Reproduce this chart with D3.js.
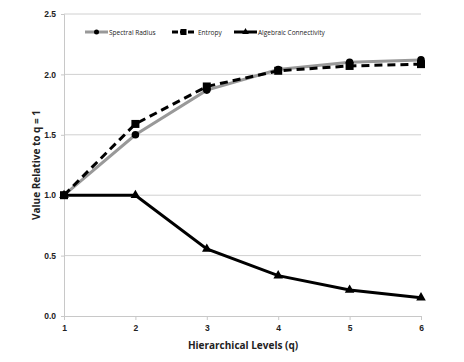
<!DOCTYPE html>
<html><head><meta charset="utf-8">
<script src="https://cdn.jsdelivr.net/npm/d3@7"></script>
<style>body{margin:0;background:#fff;} svg{display:block;font-family:"Open Sans",Lato,sans-serif;}</style>
</head><body>
<svg id="c" width="464" height="362"></svg>
<script>
const levels = [1, 2, 3, 4, 5, 6];
const spectralRadius = [1.0, 1.50, 1.87, 2.04, 2.10, 2.12];
const entropy = [1.0, 1.59, 1.90, 2.03, 2.07, 2.085];
const algebraicConnectivity = [1.0, 1.0, 0.555, 0.334, 0.215, 0.152];
const yTicks = [0, 0.5, 1.0, 1.5, 2.0, 2.5];
const seriesNames = ["Spectral Radius", "Entropy", "Algebraic Connectivity"];

const svg = d3.select("#c");
const x = d3.scaleLinear().domain([1, 6]).range([64, 421]);
const y = d3.scaleLinear().domain([0, 2.5]).range([316, 14]);

// gridlines
svg.append("g").selectAll("line").data(yTicks.filter(d => d > 0)).join("line")
  .attr("x1", 64).attr("x2", 421).attr("y1", d => y(d)).attr("y2", d => y(d))
  .attr("stroke", "#d0d0d0").attr("stroke-width", 1);

// y axis
const ya = svg.append("g").attr("transform", "translate(64,0)")
  .call(d3.axisLeft(y).tickValues(yTicks).tickFormat(d3.format(".1f")).tickSize(3));
ya.select(".domain").attr("stroke", "#c8c8c8");
ya.selectAll(".tick line").attr("stroke", "#c8c8c8");
ya.selectAll("text").attr("font-size", 8.5).attr("font-weight", "bold").attr("fill", "#222").attr("dx", -2);

// x axis
const xa = svg.append("g").attr("transform", "translate(0,316)")
  .call(d3.axisBottom(x).tickValues(levels).tickFormat(d3.format("d")).tickSize(4));
xa.select(".domain").attr("stroke", "#c8c8c8");
xa.selectAll(".tick line").attr("stroke", "#c8c8c8");
xa.selectAll("text").attr("font-size", 8.5).attr("font-weight", "bold").attr("fill", "#222").attr("dy", "0.9em");

// titles
svg.append("text").attr("x", 243).attr("y", 349).attr("text-anchor", "middle")
  .attr("font-size", 10).attr("font-weight", "bold").attr("fill", "#222").text("Hierarchical Levels (q)");
svg.append("text").attr("transform", "translate(40,165) rotate(-90)").attr("text-anchor", "middle")
  .attr("font-size", 10).attr("font-weight", "bold").attr("fill", "#222").text("Value Relative to q = 1");

const line = d3.line().x((d, i) => x(levels[i])).y(d => y(d));

// algebraic
svg.append("path").datum(algebraicConnectivity).attr("d", line).attr("fill", "none")
  .attr("stroke", "#000").attr("stroke-width", 3);
svg.append("g").selectAll("path").data(algebraicConnectivity).join("path")
  .attr("d", d3.symbol(d3.symbolTriangle, 40)())
  .attr("transform", (d, i) => `translate(${x(levels[i])},${y(d)})`).attr("fill", "#000");

// spectral
svg.append("path").datum(spectralRadius).attr("d", line).attr("fill", "none")
  .attr("stroke", "#999").attr("stroke-width", 3);
svg.append("g").selectAll("circle").data(spectralRadius).join("circle")
  .attr("cx", (d, i) => x(levels[i])).attr("cy", d => y(d)).attr("r", 3.8).attr("fill", "#000");

// entropy
svg.append("path").datum(entropy).attr("d", line).attr("fill", "none")
  .attr("stroke", "#000").attr("stroke-width", 3).attr("stroke-dasharray", "8,5");
svg.append("g").selectAll("rect").data(entropy).join("rect")
  .attr("x", (d, i) => x(levels[i]) - 4).attr("y", d => y(d) - 4).attr("width", 8).attr("height", 8).attr("fill", "#000");

// legend
const lg = svg.append("g");
const lx = [85, 172, 234];
const lw = 23;
const ly = 32;
// spectral
lg.append("line").attr("x1", lx[0]).attr("x2", lx[0] + lw).attr("y1", ly).attr("y2", ly).attr("stroke", "#999").attr("stroke-width", 3);
lg.append("circle").attr("cx", lx[0] + lw / 2).attr("cy", ly).attr("r", 2.5).attr("fill", "#000");
// entropy
lg.append("line").attr("x1", lx[1]).attr("x2", lx[1] + lw).attr("y1", ly).attr("y2", ly).attr("stroke", "#000").attr("stroke-width", 3).attr("stroke-dasharray", "6,2");
lg.append("rect").attr("x", lx[1] + lw / 2 - 3).attr("y", ly - 3).attr("width", 6).attr("height", 6).attr("fill", "#000");
// algebraic
lg.append("line").attr("x1", lx[2]).attr("x2", lx[2] + lw).attr("y1", ly).attr("y2", ly).attr("stroke", "#000").attr("stroke-width", 3);
lg.append("path").attr("d", d3.symbol(d3.symbolTriangle, 20)()).attr("transform", `translate(${lx[2] + lw / 2},${ly})`).attr("fill", "#000");
const ltx = [lx[0] + lw + 1, lx[1] + lw + 3, lx[2] + lw + 1];
seriesNames.forEach((n, i) => {
  lg.append("text").attr("x", ltx[i]).attr("y", ly + 2.5).attr("font-size", 6.5).attr("fill", "#222").text(n);
});
</script>
</body></html>
